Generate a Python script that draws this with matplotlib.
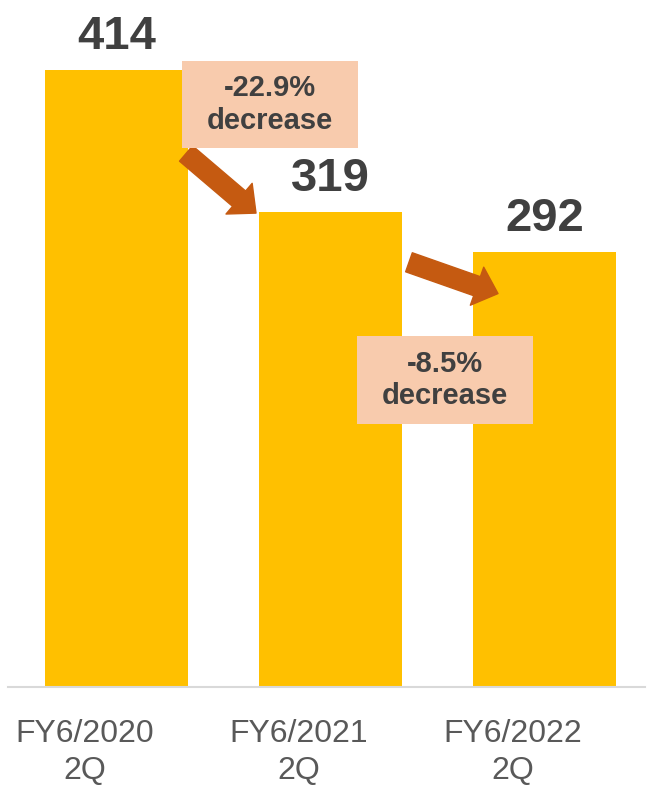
import matplotlib.pyplot as plt
import matplotlib.transforms as mtransforms
from matplotlib.patches import FancyArrowPatch, Rectangle

# sales by half-year period
periods = ["FY6/2020\n2Q", "FY6/2021\n2Q", "FY6/2022\n2Q"]
values = [414, 319, 292]

bar_color = "#FFC000"
arrow_color = "#C55A11"
box_color = "#F8CBAD"
text_color = "#404040"

plt.rcParams["font.family"] = ["Liberation Sans", "DejaVu Sans"]

fig = plt.figure(figsize=(6.47, 7.91), dpi=100)
ax = fig.add_axes([0.0124, 0.1315, 0.9845, 0.8685])

x = list(range(len(values)))
bars = ax.bar(x, values, width=0.668, color=bar_color, zorder=2)

# value labels above each bar
for xi, v in zip(x, values):
    ax.annotate(str(v), (xi, v), xytext=(0, 15), textcoords="offset points",
                ha="center", va="baseline", fontsize=34, fontweight="bold",
                color=text_color)

ax.set_xlim(-0.507, 2.47)
ax.set_ylim(0, 461)
ax.set_xticks(x)
ax.set_xticklabels(periods, fontsize=23, color="#595959", linespacing=1.3)
ax.tick_params(axis="x", length=0, pad=23)
# category labels sit a little left of the bar centres
shift = mtransforms.ScaledTranslation(-0.32, 0, fig.dpi_scale_trans)
for lbl in ax.get_xticklabels():
    lbl.set_transform(lbl.get_transform() + shift)
ax.set_yticks([])
for side in ["top", "right", "left"]:
    ax.spines[side].set_visible(False)
ax.spines["bottom"].set_color("#D9D9D9")
ax.spines["bottom"].set_linewidth(1.5)

# change arrows: (start, end) in data coords
arrows = [((0.325, 358), (0.652, 318)), ((1.367, 285), (1.783, 264))]
for start, end in arrows:
    ax.add_patch(FancyArrowPatch(start, end, arrowstyle="simple,head_length=16,head_width=29,tail_width=14.5",
                                 mutation_scale=1, color=arrow_color, shrinkA=0, shrinkB=0, zorder=4))

# percentage change boxes: (x0, y0, w, h)
boxes = [(0.306, 361.7, 0.822, 58.3), (1.124, 176.5, 0.822, 59.0)]
for i, (bx, by, bw, bh) in enumerate(boxes):
    pct = (values[i + 1] - values[i]) / values[i] * 100
    ax.add_patch(Rectangle((bx, by), bw, bh, facecolor=box_color, edgecolor="none", zorder=5))
    ax.text(bx + bw / 2, by + bh / 2, f"{pct:.1f}%\ndecrease", ha="center", va="center",
            fontsize=21, fontweight="bold", color=text_color, linespacing=1.2, zorder=6)

fig.savefig("out.png", dpi=100)
